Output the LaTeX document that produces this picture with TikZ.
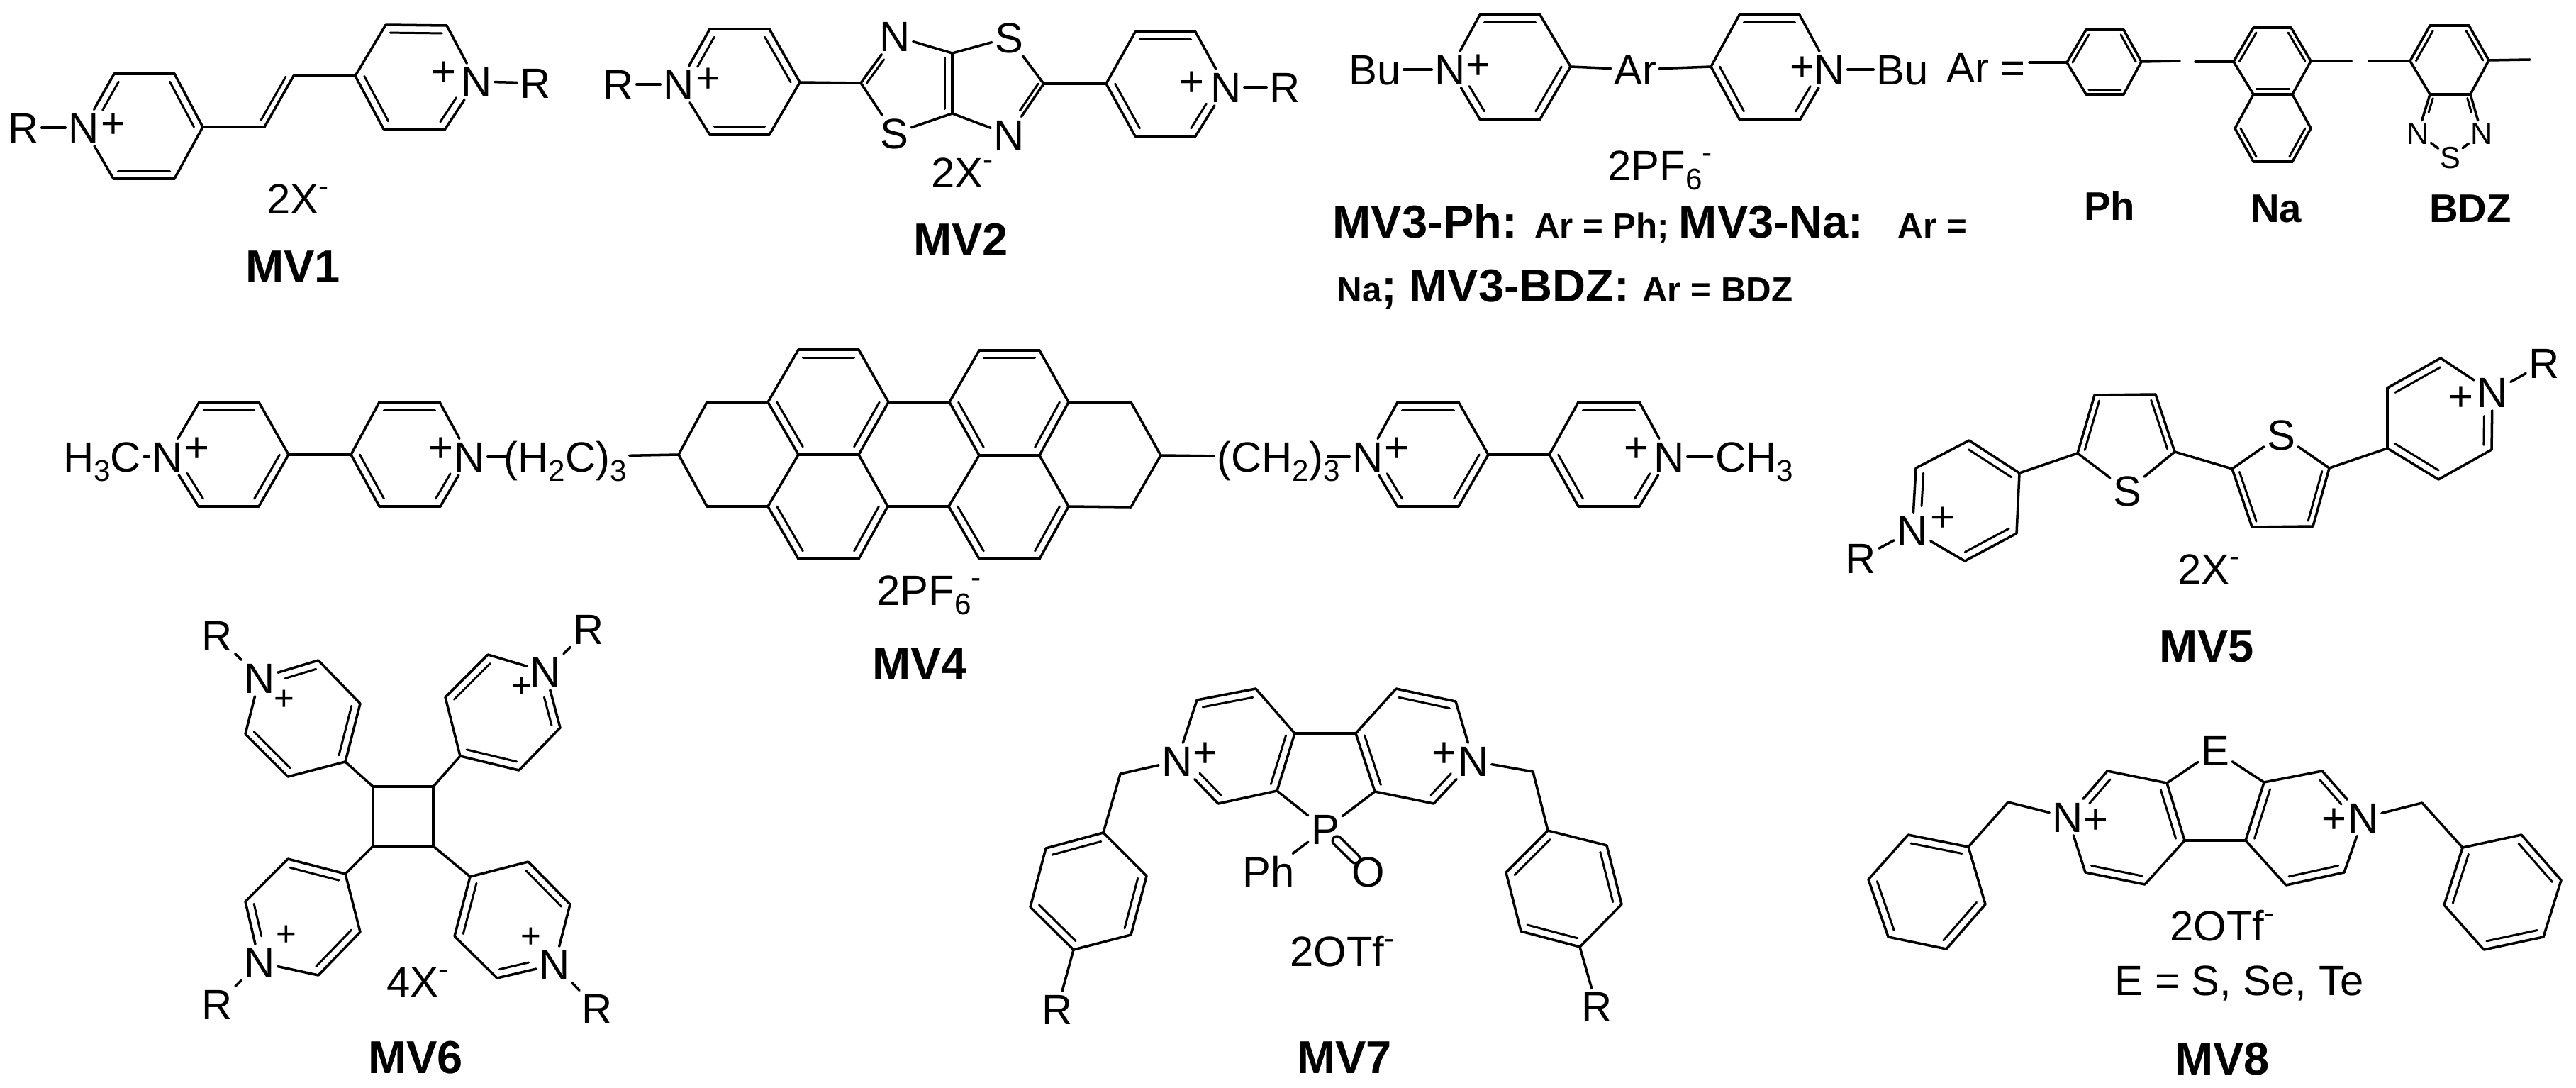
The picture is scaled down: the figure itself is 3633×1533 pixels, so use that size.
\documentclass[tikz,border=0pt]{standalone}
\usepackage{fontspec}
\setmainfont{Liberation Sans}
\usetikzlibrary{calc}

\newcommand{\chsub}[1]{\raisebox{-3.6pt}{\fontsize{12}{12}\selectfont #1}}
\newcommand{\chsup}[1]{\raisebox{7pt}{\fontsize{12}{12}\selectfont #1}}
\newcommand{\mvfont}{\fontsize{18.5}{22}\selectfont\bfseries}
\newcommand{\smfont}{\fontsize{14}{16}\selectfont\bfseries}

\tikzset{
  bond/.style={line width=1pt, line cap=round, line join=round},
  inbond/.style={line width=0.85pt, line cap=round},
  inbondn/.style={inbond, shorten <=8pt},
  atom/.style={font=\fontsize{17}{20}\selectfont, inner sep=1pt, text height=12.2pt, text depth=0pt},
  atomsm/.style={font=\fontsize{12.3}{14}\selectfont, inner sep=0.6pt, text height=8.8pt, text depth=0pt},
  chg/.style={font=\fontsize{17}{20}\selectfont, inner sep=0pt},
  chgsm/.style={font=\fontsize{14}{16}\selectfont, inner sep=0pt},
  title/.style={font=\mvfont, inner sep=0pt, text height=13.2pt, text depth=0pt},
  subtitle/.style={font=\fontsize{16}{18}\selectfont\bfseries, inner sep=0pt, text height=11.5pt, text depth=0pt},
  line/.style={anchor=base west, inner sep=0pt}
}

\newcommand{\pts}[1]{\foreach \n/\x/\y in {#1} \coordinate (\n) at (\x,\y);}
\newcommand{\atoms}[1]{\foreach \n/\x/\y/\t in {#1} \node[atom] (\n) at (\x,\y) {\t};}
\newcommand{\chgs}[1]{\foreach \n/\x/\y in {#1} \node[chg] (\n) at (\x,\y) {+};}
\newcommand{\chainbonds}[2]{\foreach \b [remember=\b as \a (initially #1)] in {#2} \draw[bond] (\a) -- (\b);}
\newcommand{\dbl}[2]{\foreach \a/\b in {#2} \draw[inbond] ($(\a)!.15!(#1)$) -- ($(\b)!.15!(#1)$);}
\newcommand{\dbln}[2]{\foreach \a/\b in {#2} \draw[inbondn] ($(\a)!.15!(#1)$) -- ($(\b)!.15!(#1)$);}

\begin{document}
\begin{tikzpicture}[x=0.01cm, y=-0.01cm]
  \useasboundingbox (0,0) rectangle (3633,1533);

  % MV1
  \atoms{m1r/33/180/R,m1n/118/180/N,m1t/672/115/N,m1s/755/117/R}
  \chgs{m1p/160/177,m1q/626/104}
  \pts{m1a/161/104,m1b/246/104,m1c/286/179,m1d/246/252,m1e/160/252,m1l/203/179,
    m1f/373/179,m1g/414/107,m1v/341/114,
    m1h/501/107,m1i/544/35,m1j/630/36,m1k/627/183,m1m/541/182,m1u/586/109}
  \chainbonds{m1r}{m1n,m1a,m1b,m1c,m1d,m1e,m1n}
  \chainbonds{m1c}{m1f,m1g,m1h,m1i,m1j,m1t,m1k,m1m,m1h}
  \draw[bond] (m1t) -- (m1s);
  \dbln{m1l}{m1n/m1a}
  \dbl{m1l}{m1b/m1c,m1d/m1e}
  \dbl{m1v}{m1f/m1g}
  \dbl{m1u}{m1i/m1j,m1h/m1m}
  \dbln{m1u}{m1t/m1k}
  \node[atom] (m1x) at (420,280) {2X\chsup{-}};
  \node[title] (mv1) at (413,375) {MV1};

  % MV2
  \atoms{m2r/872/119/R,m2n/957/119/N,m2t/1262/51/N,m2s/1423/53/S,m2o/1423/190/N,m2w/1261/188/S,m2y/1729/123/N,m2z/1812/123/R}
  \chgs{m2p/999/113,m2q/1681/118}
  \pts{m2a/1001/41,m2b/1085/41,m2c/1128/116,m2d/1085/190,m2e/1001/190,m2l/1043/116,
    m2f/1214/117,m2g/1343/75,m2h/1472/118,m2i/1343/160,m2u/1270/118,m2v/1420/118,
    m2j/1560/118,m2k/1601/45,m2m/1686/45,m2x/1686/192,m2q1/1601/192,m2c1/1644/118}
  \chainbonds{m2r}{m2n,m2a,m2b,m2c,m2d,m2e,m2n}
  \chainbonds{m2c}{m2f,m2t,m2g,m2s,m2h,m2o,m2i,m2w,m2f}
  \chainbonds{m2h}{m2j,m2k,m2m,m2y,m2x,m2q1,m2j}
  \draw[bond] (m2g) -- (m2i);
  \draw[bond] (m2y) -- (m2z);
  \dbln{m2l}{m2n/m2a}
  \dbl{m2l}{m2b/m2c,m2d/m2e}
  \dbln{m2u}{m2t/m2f}
  \dbl{m2u}{m2g/m2i}
  \dbln{m2v}{m2o/m2h}
  \dbl{m2c1}{m2k/m2m,m2j/m2q1}
  \dbln{m2c1}{m2y/m2x}
  \node[atom] (m2x1) at (1357,243) {2X\chsup{-}};
  \node[title] (mv2) at (1355,337) {MV2};

  % MV3
  \atoms{m3r/1939/98/Bu,m3n/2045/98/N,m3w/2306/98/Ar,m3t/2580/98/N,m3s/2683/98/Bu,m3eq/2801/95/Ar =}
  \chgs{m3p/2085/94,m3q/2542/97}
  \pts{m3a/2087/21,m3b/2172/21,m3c/2215/94,m3d/2172/168,m3e/2087/168,m3l/2130/94,
    m3f/2413/94,m3g/2453/21,m3h/2538/21,m3i/2539/168,m3j/2453/168,m3u/2496/94}
  \chainbonds{m3r}{m3n,m3a,m3b,m3c,m3d,m3e,m3n}
  \chainbonds{m3c}{m3w,m3f,m3g,m3h,m3t,m3i,m3j,m3f}
  \draw[bond] (m3t) -- (m3s);
  \dbl{m3l}{m3a/m3b,m3c/m3d}
  \dbln{m3l}{m3n/m3e}
  \dbl{m3u}{m3g/m3h,m3f/m3j}
  \dbln{m3u}{m3t/m3i}
  \node[atom] (m3x) at (2341,233) {2PF\chsub{6}\chsup{-}};
  \node[line] (mv3a) at (1879,335) {\mvfont MV3-Ph: \smfont Ar = Ph; \mvfont MV3-Na:\hspace{7pt} \smfont Ar =};
  \node[line] (mv3b) at (1885,425) {\smfont Na{\mvfont;}\hspace{1pt} \mvfont MV3-BDZ: \smfont Ar = BDZ};

  % Ar groups
  \pts{phs/2862/88,pha/2915/88,phb/2942/42,phc/2995/42,phd/3020/87,phe/2995/133,phf/2942/133,pht/3074/86,phl/2968/88}
  \chainbonds{phs}{pha,phb,phc,phd,phe,phf,pha}
  \draw[bond] (phd) -- (pht);
  \dbl{phl}{pha/phb,phc/phd,phe/phf}
  \pts{nas/3096/87,naa/3150/87,nab/3178/39,nac/3231/39,nad/3259/86,nat/3316/86,nae/3233/133,naf/3178/133,
    nag/3152/181,nah/3178/228,nai/3233/228,naj/3259/181,nal/3205/86,nam/3205/181}
  \chainbonds{nas}{naa,nab,nac,nad,nae,naf,naa}
  \chainbonds{naf}{nag,nah,nai,naj,nae}
  \draw[bond] (nad) -- (nat);
  \dbl{nal}{naa/nab,nac/nad,nae/naf}
  \dbl{nam}{nag/nah,nai/naj}
  \pts{bzs/3341/86,bza/3399/86,bzb/3427/36,bzc/3482/36,bzd/3510/85,bzt/3568/84,bze/3484/133,bzf/3427/133,bzl/3455/85,bzm/3455/170}
  \node[atomsm] (bzn) at (3410,188) {N};
  \node[atomsm] (bzx) at (3456,222) {S};
  \node[atomsm] (bzy) at (3500,188) {N};
  \chainbonds{bzs}{bza,bzb,bzc,bzd,bze,bzf,bza}
  \chainbonds{bzf}{bzn,bzx,bzy,bze}
  \draw[bond] (bzd) -- (bzt);
  \dbl{bzl}{bza/bzb,bzc/bzd}
  \dbln{bzm}{bzn/bzf,bzy/bze}
  \node[subtitle] (ph) at (2975,290) {Ph};
  \node[subtitle] (na) at (3210,293) {Na};
  \node[subtitle] (bdz) at (3484,293) {BDZ};

  % MV4
  \node[atom] (m4h) at (144,644) {H\chsub{3}C};
  \node[atom] (m4y) at (797,644) {(H\chsub{2}C)\chsub{3}};
  \node[atom] (m4z) at (1803,644) {(CH\chsub{2})\chsub{3}};
  \node[atom] (m4c) at (2474,644) {CH\chsub{3}};
  \atoms{m4n/236/644/N,m4t/662/644/N,m4u/1929/644/N,m4v/2354/644/N}
  \chgs{m4p/278/634,m4q/622/634,m4r/1970/634,m4s/2308/634}
  \pts{m4a/281/567,m4b/365/567,m4c1/407/641,m4d/365/714,m4e/280/714,m4l/323/641,
    m4f/495/641,m4g/535/567,m4i/620/567,m4j/621/714,m4k/535/714,m4m/578/641}
  \chainbonds{m4h}{m4n,m4a,m4b,m4c1,m4d,m4e,m4n}
  \chainbonds{m4c1}{m4f,m4g,m4i,m4t,m4j,m4k,m4f}
  \draw[bond, shorten >=-3pt] (m4t) -- (m4y);
  \dbl{m4l}{m4a/m4b,m4c1/m4d}
  \dbln{m4l}{m4n/m4e}
  \dbl{m4m}{m4g/m4i,m4f/m4k}
  \dbln{m4m}{m4t/m4j}
  % core
  \pts{cork/957/641,corl/997/567,corm/997/714,
    cora/1083/567,corb/1126/493,corc/1211/493,cord/1253/567,core/1339/567,corf/1381/494,corg/1466/494,corh/1507/567,
    cori/1595/567,corj/1637/642,cors/1595/715,cort/1507/714,coru/1466/788,corv/1381/788,corw/1338/714,corx/1252/714,
    cory/1211/788,corz/1126/788,cor0/1083/714,cor1/1126/641,cor2/1211/641,cor3/1381/642,cor4/1466/642,
    cc1/1168/567,cc2/1423/567,cc3/1168/714,cc4/1423/714}
  \draw[bond] (m4y) -- (cork);
  \chainbonds{cork}{corl,cora,corb,corc,cord,core,corf,corg,corh,cori,corj,cors,cort,coru,corv,corw,corx,cory,corz,cor0,corm,cork}
  \chainbonds{cora}{cor1,cor2,cord}
  \chainbonds{core}{cor3,cor4,corh}
  \draw[bond] (cor1) -- (cor0);
  \draw[bond] (cor2) -- (corx);
  \draw[bond] (cor3) -- (corw);
  \draw[bond] (cor4) -- (cort);
  \dbl{cc1}{corb/corc,cora/cor1,cord/cor2}
  \dbl{cc2}{corf/corg,core/cor3,corh/cor4}
  \dbl{cc3}{cor0/corz,corx/cory}
  \dbl{cc4}{corw/corv,cort/coru}
  \draw[bond] (corj) -- (m4z);
  \draw[bond, shorten <=-6pt] (m4z) -- (m4u);
  \pts{m4a2/1971/567,m4b2/2057/567,m4c2/2099/641,m4d2/2057/714,m4e2/1971/714,m4l2/2014/641,
    m4f2/2185/641,m4g2/2226/567,m4i2/2312/567,m4j2/2312/714,m4k2/2226/714,m4m2/2269/641}
  \chainbonds{m4u}{m4a2,m4b2,m4c2,m4d2,m4e2,m4u}
  \chainbonds{m4c2}{m4f2,m4g2,m4i2,m4v,m4j2,m4k2,m4f2}
  \draw[bond] (m4v) -- (m4c);
  \dbl{m4l2}{m4a2/m4b2,m4c2/m4d2}
  \dbln{m4l2}{m4u/m4e2}
  \dbl{m4m2}{m4g2/m4i2,m4f2/m4k2}
  \dbln{m4m2}{m4v/m4j2}
  \node[atom] (m4x) at (1310,832) {2PF\chsub{6}\chsup{-}};
  \node[title] (mv4) at (1297,935) {MV4};

  % MV5
  \atoms{m5r/2624/787/R,m5n/2697/748/N,m5s/3000/692/S,m5w/3217/613/S,m5t/3515/553/N,m5y/3588/512/R}
  \chgs{m5p/2740/732,m5q/3471/562}
  \pts{m5a/2702/660,m5b/2777/621,m5c/2848/667,m5d/2844/752,m5e/2771/791,m5l/2773/706,
    m5f/2930/639,m5g/2954/557,m5h/3040/556,m5i/3067/637,m5u/2998/610,
    m5j/3148/661,m5k/3285/660,m5o/3262/742,m5m/3176/743,m5v/3217/690,
    m5c1/3367/632,m5c2/3367/547,m5c3/3442/505,m5c4/3514/634,m5c5/3439/676,m5c6/3440/590}
  \chainbonds{m5r}{m5n,m5a,m5b,m5c,m5d,m5e,m5n}
  \chainbonds{m5c}{m5f,m5g,m5h,m5i,m5s,m5f}
  \chainbonds{m5i}{m5j,m5w,m5k,m5o,m5m,m5j}
  \chainbonds{m5k}{m5c1,m5c2,m5c3,m5t,m5c4,m5c5,m5c1}
  \draw[bond] (m5t) -- (m5y);
  \dbln{m5l}{m5n/m5a}
  \dbl{m5l}{m5b/m5c,m5d/m5e}
  \dbl{m5u}{m5f/m5g,m5h/m5i}
  \dbl{m5v}{m5j/m5m,m5k/m5o}
  \dbl{m5c6}{m5c2/m5c3,m5c1/m5c5}
  \dbln{m5c6}{m5t/m5c4}
  \node[atom] (m5x) at (3115,802) {2X\chsup{-}};
  \node[title] (mv5) at (3112,910) {MV5};

  % MV6
  \atoms{m6r1/306/896/R,m6n1/366/956/N,m6r2/830/887/R,m6n2/769/947/N,m6r3/306/1416/R,m6n3/366/1357/N,m6r4/842/1422/R,m6n4/782/1360/N}
  \foreach \n/\x/\y in {m6p1/401/987,m6p2/736/969,m6p3/404/1319,m6p4/749/1322} \node[chgsm] (\n) at (\x,\y) {+};
  \pts{m6a/449/931,m6b/508/992,m6c/487/1074,m6d/406/1095,m6e/346/1035,m6l1/427/1013,
    m6f/688/923,m6g/628/983,m6h/649/1066,m6i/732/1086,m6j/790/1026,m6l2/710/1005,
    m6s1/526/1109,m6s2/611/1109,m6s3/611/1193,m6s4/526/1193,
    m6k/487/1232,m6m/406/1211,m6o/346/1271,m6q/449/1375,m6t/508/1314,m6l3/427/1293,
    m6u/663/1236,m6v/745/1215,m6w/804/1275,m6x/701/1379,m6y/641/1320,m6l4/723/1297}
  \chainbonds{m6r1}{m6n1,m6a,m6b,m6c,m6d,m6e,m6n1}
  \chainbonds{m6r2}{m6n2,m6f,m6g,m6h,m6i,m6j,m6n2}
  \chainbonds{m6r3}{m6n3,m6o,m6m,m6k,m6t,m6q,m6n3}
  \chainbonds{m6r4}{m6n4,m6w,m6v,m6u,m6y,m6x,m6n4}
  \chainbonds{m6s1}{m6s2,m6s3,m6s4,m6s1}
  \foreach \a/\b in {m6c/m6s1,m6h/m6s2,m6k/m6s4,m6u/m6s3} \draw[bond] (\a) -- (\b);
  \dbln{m6l1}{m6n1/m6a}
  \dbl{m6l1}{m6b/m6c,m6e/m6d}
  \dbln{m6l2}{m6n2/m6j}
  \dbl{m6l2}{m6g/m6f,m6h/m6i}
  \dbln{m6l3}{m6n3/m6o}
  \dbl{m6l3}{m6m/m6k,m6q/m6t}
  \dbln{m6l4}{m6n4/m6x}
  \dbl{m6l4}{m6v/m6w,m6u/m6y}
  \node[atom] (m6x1) at (589,1384) {4X\chsup{-}};
  \node[title] (mv6) at (586,1490) {MV6};

  % MV7
  \atoms{m7n/1660/1073/N,m7t/2078/1073/N,m7w/1869/1169/P,m7h/1789/1229/Ph,m7o/1930/1229/O,m7r/1491/1423/R,m7s/2252/1419/R}
  \chgs{m7p/1700/1064,m7q/2037/1064}
  \pts{m7a/1688/987,m7b/1771/971,m7c/1826/1034,m7d/1801/1115,m7e/1718/1133,m7l/1743/1053,
    m7f/1912/1034,m7g/1969/971,m7i/2053/989,m7j/2022/1133,m7k/1939/1116,m7u/1995/1053,
    m7m/1580/1091,m7v1/1556/1174,m7v2/1475/1196,m7v3/1453/1279,m7v4/1514/1339,m7v5/1595/1318,m7v6/1617/1235,m7c1/1535/1257,
    m7y/2162/1088,m7x1/2183/1171,m7x2/2266/1192,m7x3/2287/1275,m7x4/2228/1335,m7x5/2145/1313,m7x6/2124/1230,m7c2/2205/1253}
  \chainbonds{m7n}{m7a,m7b,m7c,m7d,m7e,m7n}
  \chainbonds{m7c}{m7f,m7g,m7i,m7t,m7j,m7k,m7f}
  \chainbonds{m7d}{m7w,m7k}
  \draw[bond] (m7w) -- (m7h);
  \draw[bond, double, double distance=2.6pt, shorten >=-3pt, shorten <=-3pt] (m7w) -- (m7o);
  \chainbonds{m7n}{m7m,m7v1,m7v2,m7v3,m7v4,m7v5,m7v6,m7v1}
  \draw[bond] (m7v4) -- (m7r);
  \chainbonds{m7t}{m7y,m7x1,m7x2,m7x3,m7x4,m7x5,m7x6,m7x1}
  \draw[bond] (m7x4) -- (m7s);
  \dbl{m7l}{m7a/m7b,m7c/m7d}
  \dbln{m7l}{m7n/m7e}
  \dbl{m7u}{m7g/m7i,m7f/m7k}
  \dbln{m7u}{m7t/m7j}
  \dbl{m7c1}{m7v1/m7v2,m7v3/m7v4,m7v5/m7v6}
  \dbl{m7c2}{m7x1/m7x6,m7x2/m7x3,m7x4/m7x5}
  \node[atom] (m7x0) at (1893,1341) {2OTf\chsup{-}};
  \node[title] (mv7) at (1896,1490) {MV7};

  % MV8
  \atoms{m8w/3124/1058/E,m8n/2916/1152/N,m8t/3333/1153/N}
  \chgs{m8p/2956/1158,m8q/3292/1157}
  \pts{m8a/3056/1104,m8b/2972/1087,m8c/2941/1230,m8d/3025/1247,m8e/3081/1185,m8l/2998/1167,
    m8f/3167/1185,m8g/3193/1103,m8h/3275/1087,m8i/3306/1230,m8j/3224/1248,m8u/3250/1167,
    m8m/2832/1131,m8v1/2776/1194,m8v2/2691/1177,m8v3/2635/1240,m8v4/2663/1321,m8v5/2745/1338,m8v6/2800/1275,m8c1/2717/1257,
    m8y/3416/1132,m8x1/3473/1195,m8x2/3556/1177,m8x3/3612/1241,m8x4/3587/1321,m8x5/3503/1339,m8x6/3447/1276,m8c2/3529/1258}
  \chainbonds{m8w}{m8a,m8b,m8n,m8c,m8d,m8e,m8a}
  \chainbonds{m8w}{m8g,m8h,m8t,m8i,m8j,m8f,m8g}
  \draw[bond] (m8e) -- (m8f);
  \chainbonds{m8n}{m8m,m8v1,m8v2,m8v3,m8v4,m8v5,m8v6,m8v1}
  \chainbonds{m8t}{m8y,m8x1,m8x2,m8x3,m8x4,m8x5,m8x6,m8x1}
  \dbln{m8l}{m8n/m8b}
  \dbl{m8l}{m8a/m8e,m8c/m8d}
  \dbln{m8u}{m8t/m8h}
  \dbl{m8u}{m8g/m8f,m8i/m8j}
  \dbl{m8c1}{m8v1/m8v2,m8v3/m8v4,m8v5/m8v6}
  \dbl{m8c2}{m8x1/m8x6,m8x2/m8x3,m8x4/m8x5}
  \node[atom] (m8x0) at (3134,1305) {2OTf\chsup{-}};
  \node[atom] (m8z) at (3158,1382) {E = S, Se, Te};
  \node[title] (mv8) at (3134,1492) {MV8};
\end{tikzpicture}
\end{document}
